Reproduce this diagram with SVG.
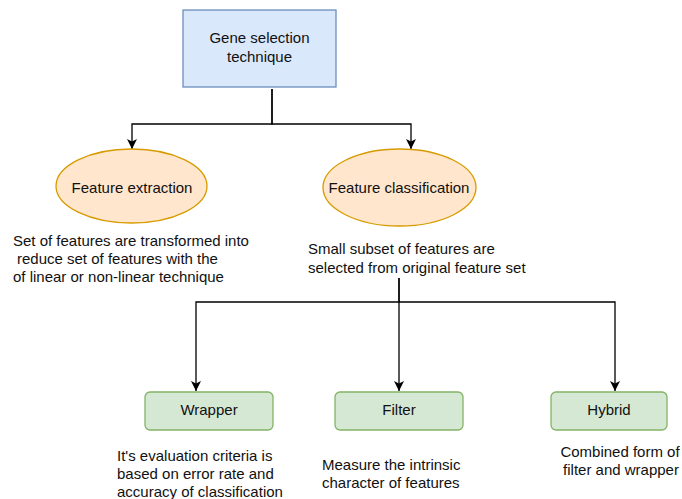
<svg xmlns="http://www.w3.org/2000/svg" width="682" height="499" viewBox="0 0 682 499">
  <style>
    text { font-family: "Liberation Sans", Arial, sans-serif; font-size: 15px; fill: #111; }
    .c { text-anchor: middle; }
    .edge { fill: none; stroke: #000; stroke-width: 1.3; }
    .blue { fill: #dae8fc; stroke: #6c8ebf; stroke-width: 1.3; }
    .orange { fill: #ffe6cc; stroke: #d79b00; stroke-width: 1.3; }
    .green { fill: #d5e8d4; stroke: #82b366; stroke-width: 1.3; }
  </style>
  <defs>
    <marker id="arrow" viewBox="0 0 10 10" refX="10" refY="5" markerWidth="10" markerHeight="10" markerUnits="userSpaceOnUse" orient="auto">
      <path d="M0 0 L10 5 L0 10 L2.5 5 Z" fill="#000"/>
    </marker>
  </defs>
  <rect width="682" height="499" fill="#fff"/>

  <g id="connectors">
    <path class="edge" d="M272 89 V124 H132 V149" marker-end="url(#arrow)"/>
    <path class="edge" d="M272 89 V124 H411 V149" marker-end="url(#arrow)"/>
    <path class="edge" d="M399 278 V302 H196 V391" marker-end="url(#arrow)"/>
    <path class="edge" d="M399 278 V391" marker-end="url(#arrow)"/>
    <path class="edge" d="M399 302 H615 V391" marker-end="url(#arrow)"/>
  </g>

  <g id="gene-selection">
    <rect class="blue" x="183" y="10" width="153" height="77"/>
    <text class="c" x="259.5" y="43">Gene selection</text>
    <text class="c" x="259.5" y="62">technique</text>
  </g>

  <g id="feature-extraction">
    <ellipse class="orange" cx="131.5" cy="186" rx="75.5" ry="37"/>
    <text class="c" x="132" y="193">Feature extraction</text>
    <text x="13" y="246">Set of features are transformed into</text>
    <text x="17" y="264">reduce set of features with the</text>
    <text x="13" y="282">of linear or non-linear technique</text>
  </g>

  <g id="feature-classification">
    <ellipse class="orange" cx="399.5" cy="187.5" rx="76.5" ry="38.5"/>
    <text class="c" x="399" y="192.5">Feature classification</text>
    <text x="308" y="254">Small subset of features are</text>
    <text x="308" y="273">selected from original feature set</text>
  </g>

  <g id="wrapper">
    <rect class="green" x="145" y="392" width="128" height="38" rx="5"/>
    <text class="c" x="209" y="415">Wrapper</text>
    <text x="117" y="461">It's evaluation criteria is</text>
    <text x="117" y="479">based on error rate and</text>
    <text x="117" y="497">accuracy of classification</text>
  </g>

  <g id="filter">
    <rect class="green" x="335" y="392" width="128" height="38" rx="5"/>
    <text class="c" x="399" y="415">Filter</text>
    <text x="322" y="470">Measure the intrinsic</text>
    <text x="322" y="488">character of features</text>
  </g>

  <g id="hybrid">
    <rect class="green" x="551" y="392" width="116" height="38" rx="5"/>
    <text class="c" x="609" y="415">Hybrid</text>
    <text class="c" x="620" y="457">Combined form of</text>
    <text class="c" x="621" y="475">filter and wrapper</text>
  </g>
</svg>
